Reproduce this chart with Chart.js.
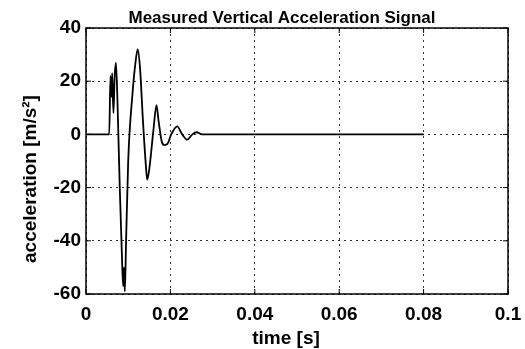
<!DOCTYPE html>
<html>
<head>
<meta charset="utf-8">
<script src="https://cdn.jsdelivr.net/npm/chart.js@4"></script>
<style>
  html, body { margin: 0; padding: 0; background: #fff; }
  #wrap { width: 525px; height: 349px; }
</style>
</head>
<body>
<div id="wrap"><canvas id="c" width="525" height="349"></canvas></div>
<script>
const timeS = [0, 0.0055, 0.0058, 0.0060, 0.0062, 0.0065, 0.0068, 0.0071, 0.0075, 0.0080,
    0.0085, 0.0088, 0.0090, 0.0092, 0.0095, 0.0100, 0.0110, 0.0118, 0.01225, 0.0128,
    0.0135, 0.0142, 0.0145, 0.0150, 0.0160, 0.0167, 0.0172, 0.0180, 0.0186, 0.0193,
    0.0202, 0.0216, 0.0228, 0.0240, 0.0252, 0.0262, 0.0275, 0.0800];
const accel = [0, 0, 22, 14, 23, 8, 22, 27, 10, -20,
    -45, -57, -50, -59, -40, -10, 15, 28, 32, 25,
    5, -12, -17, -13, 2, 11, 5, -3, -4, -3.6,
    0, 3, 0, -2, 0, 0.8, 0, 0];
const xTicks = [0, 0.02, 0.04, 0.06, 0.08, 0.1];
const yTicks = [-60, -40, -20, 0, 20, 40];

const FONT = 'Liberation Sans, Arial, sans-serif';
const TITLE = 'Measured Vertical Acceleration Signal';
const X_TITLE = 'time [s]';
const Y_TITLE = 'acceleration [m/s²]';

// cadre, graduations intérieures et libellés façon MATLAB
const frame = {
    id: 'frame',
    afterDraw(chart) {
        const { ctx, chartArea: a, scales } = chart;
        ctx.save();
        ctx.strokeStyle = '#000';
        ctx.lineWidth = 1.5;
        ctx.strokeRect(a.left, a.top, a.right - a.left, a.bottom - a.top);
        ctx.lineWidth = 1;
        ctx.beginPath();
        xTicks.forEach(v => {
            const px = scales.x.getPixelForValue(v);
            ctx.moveTo(px, a.bottom); ctx.lineTo(px, a.bottom - 5);
            ctx.moveTo(px, a.top); ctx.lineTo(px, a.top + 5);
        });
        yTicks.forEach(v => {
            const py = scales.y.getPixelForValue(v);
            ctx.moveTo(a.left, py); ctx.lineTo(a.left + 5, py);
            ctx.moveTo(a.right, py); ctx.lineTo(a.right - 5, py);
        });
        ctx.stroke();

        ctx.fillStyle = '#000';
        ctx.textAlign = 'center';
        ctx.textBaseline = 'alphabetic';
        ctx.font = 'bold 17px ' + FONT;
        ctx.fillText(TITLE, 282, 23);
        ctx.font = 'bold 19px ' + FONT;
        ctx.fillText(X_TITLE, 286, 344);
        ctx.translate(36, 179);
        ctx.rotate(-Math.PI / 2);
        ctx.fillText(Y_TITLE, 0, 0);
        ctx.restore();
    },
};

new Chart(document.getElementById('c'), {
    type: 'line',
    data: {
        datasets: [{
            data: timeS.map((t, i) => ({ x: t, y: accel[i] })),
            borderColor: '#000',
            borderWidth: 1.8,
            pointRadius: 0,
            cubicInterpolationMode: 'monotone',
            fill: false,
        }],
    },
    options: {
        responsive: false,
        animation: false,
        layout: { padding: { left: 0, right: 17, top: 28, bottom: 0 } },
        plugins: {
            legend: { display: false },
            tooltip: { enabled: false },
            title: { display: false },
        },
        scales: {
            x: {
                type: 'linear',
                min: 0, max: 0.1,
                afterBuildTicks: s => { s.ticks = xTicks.map(v => ({ value: v })); },
                afterFit: s => { s.height = 55; s.paddingLeft = 0; s.paddingRight = 0; },
                grid: { color: '#000', lineWidth: 0.8, drawTicks: false },
                border: { display: false, dash: [2, 4] },
                ticks: {
                    color: '#000', padding: 9,
                    font: { family: FONT, size: 19, weight: 'bold' },
                    callback: v => String(+v.toFixed(2)),
                },
            },
            y: {
                min: -60, max: 40,
                afterBuildTicks: s => { s.ticks = yTicks.map(v => ({ value: v })); },
                afterFit: s => { s.width = 86; s.paddingTop = 0; s.paddingBottom = 0; },
                grid: { color: '#000', lineWidth: 0.8, drawTicks: false },
                border: { display: false, dash: [2, 4] },
                ticks: {
                    color: '#000', padding: 5,
                    font: { family: FONT, size: 19, weight: 'bold' },
                },
            },
        },
    },
    plugins: [frame],
});
</script>
</body>
</html>
